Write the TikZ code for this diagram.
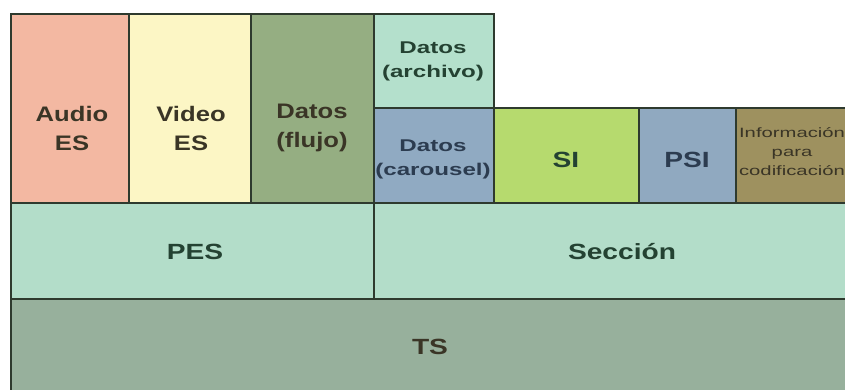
\documentclass[tikz,border=0pt]{standalone}
\usepackage{fontspec}
\setmainfont{Liberation Sans}[FakeStretch=1.22]
\newfontfamily\lowfont{Liberation Sans}[FakeStretch=1.28]
\newfontfamily\midfont{Liberation Sans}[FakeStretch=1.42]
\newfontfamily\infofont{Liberation Sans}[FakeStretch=1.5]
\definecolor{audioC}{HTML}{F3B8A2}
\definecolor{videoC}{HTML}{FCF6C5}
\definecolor{flujoC}{HTML}{95AE82}
\definecolor{archC}{HTML}{B4E0CC}
\definecolor{carC}{HTML}{90AAC2}
\definecolor{siC}{HTML}{B6DA6E}
\definecolor{psiC}{HTML}{90A9C0}
\definecolor{infoC}{HTML}{9E915F}
\definecolor{pesC}{HTML}{B3DDC9}
\definecolor{tsC}{HTML}{97B09C}
\definecolor{lineC}{HTML}{2E3A2E}
\definecolor{txtA}{HTML}{3A3526}
\definecolor{txtB}{HTML}{244232}
\definecolor{txtC}{HTML}{2C3C50}
\begin{document}
\begin{tikzpicture}[x=1pt,y=-1pt,
  blk/.style={draw=lineC, line width=2pt, rectangle, anchor=north west, inner sep=0pt},
  lbl/.style={align=center, inner sep=0pt},
  big/.style={lbl, font=\fontsize{21}{29}\selectfont\bfseries},
  low/.style={lbl, font=\lowfont\fontsize{22}{29}\selectfont\bfseries},
  mid/.style={lbl, font=\midfont\fontsize{17}{24}\selectfont\bfseries},
  small/.style={lbl, font=\infofont\fontsize{13.5}{19}\selectfont}]
\fill[white] (0,0) rectangle (845,390);
\useasboundingbox (0,0) rectangle (845,390);
\clip (0,0) rectangle (845,390);
% TS row
\node[blk, fill=tsC, minimum width=855pt, minimum height=105pt] (ts) at (10,298) {};
\node[low, text=txtA] (tst) at (430,347) {TS};
% PES / Seccion
\node[blk, fill=pesC, minimum width=363pt, minimum height=96pt] (pes) at (10,202) {};
\node[low, text=txtB] (pest) at (195,252) {PES};
\node[blk, fill=pesC, minimum width=490pt, minimum height=96pt] (sec) at (373,202) {};
\node[low, text=txtB] (sect) at (622,252) {Sección};
% top row
\node[blk, fill=audioC, minimum width=118pt, minimum height=189pt] (audio) at (10,13) {};
\node[big, text=txtA] (audiot) at (72,128) {Audio\\ES};
\node[blk, fill=videoC, minimum width=122pt, minimum height=189pt] (video) at (128,13) {};
\node[big, text=txtA] (videot) at (191,128) {Video\\ES};
\node[blk, fill=flujoC, minimum width=123pt, minimum height=189pt] (flujo) at (250,13) {};
\node[big, text=txtA] (flujot) at (312,128) {Datos\\(flujo)};
\node[blk, fill=archC, minimum width=120pt, minimum height=94pt] (arch) at (373,13) {};
\node[mid, text=txtB] (archt) at (433,61) {Datos\\(archivo)};
\node[blk, fill=carC, minimum width=120pt, minimum height=95pt] (car) at (373,107) {};
\node[mid, text=txtC] (cart) at (433,159) {Datos\\(carousel)};
\node[blk, fill=siC, minimum width=145pt, minimum height=95pt] (si) at (493,107) {};
\node[low, text=txtB] (sit) at (566,160) {SI};
\node[blk, fill=psiC, minimum width=97pt, minimum height=95pt] (psi) at (638,107) {};
\node[low, text=txtC] (psit) at (687,160) {PSI};
\node[blk, fill=infoC, minimum width=130pt, minimum height=95pt] (info) at (735,107) {};
\node[small, text=txtA] (infot) at (792,152) {Información\\para\\codificación};
\end{tikzpicture}
\end{document}
